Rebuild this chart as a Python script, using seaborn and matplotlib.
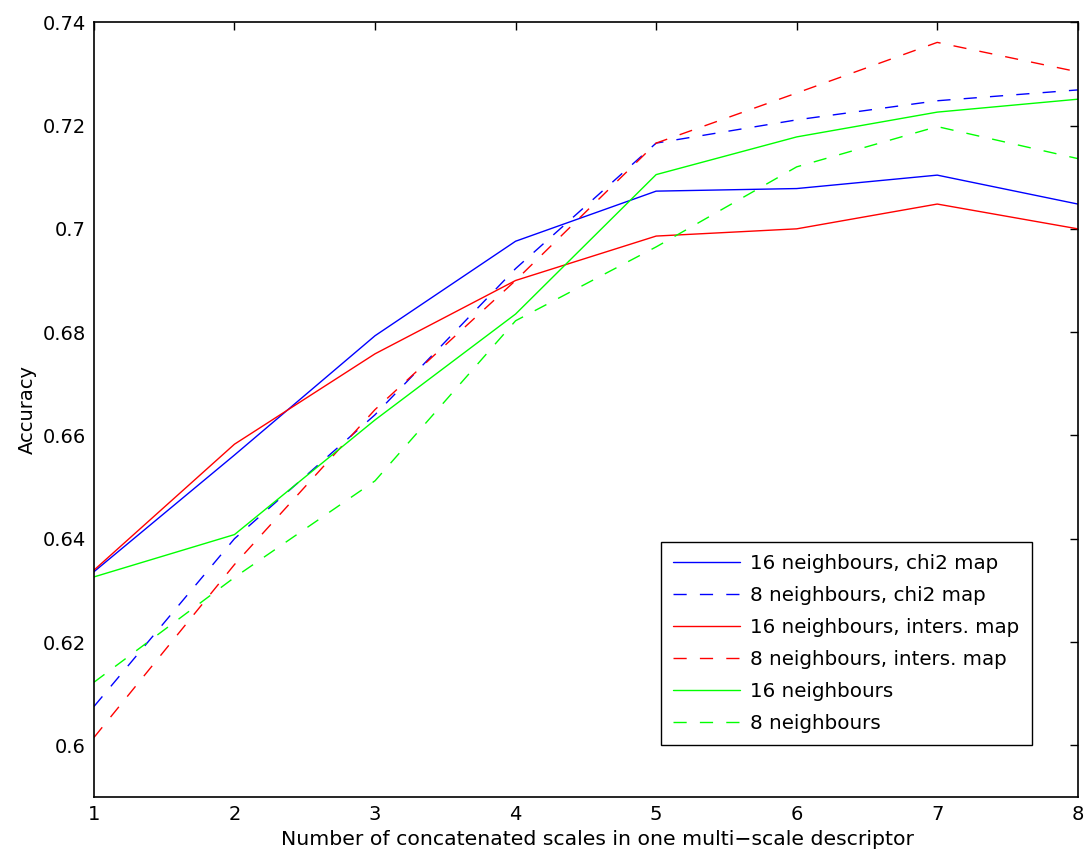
import matplotlib
matplotlib.use("Agg")
import matplotlib.pyplot as plt
import seaborn as sns
import pandas as pd

sns.set_theme(style="white")
plt.rcParams['font.family'] = ['DejaVu Sans']
plt.rcParams['text.color'] = 'black'
plt.rcParams['axes.labelcolor'] = 'black'
plt.rcParams['xtick.color'] = 'black'
plt.rcParams['ytick.color'] = 'black'

scales = [1, 2, 3, 4, 5, 6, 7, 8]
n16_chi2 = [0.6336, 0.6562, 0.6793, 0.6976, 0.7073, 0.7078, 0.7104, 0.7048]
n8_chi2 = [0.6075, 0.6400, 0.6640, 0.6923, 0.7166, 0.7211, 0.7248, 0.7269]
n16_inters = [0.6339, 0.6583, 0.6758, 0.6900, 0.6986, 0.7000, 0.7048, 0.7000]
n8_inters = [0.6015, 0.6350, 0.6650, 0.6900, 0.7166, 0.7263, 0.7361, 0.7304]
n16_plain = [0.6326, 0.6408, 0.6630, 0.6835, 0.7105, 0.7178, 0.7226, 0.7251]
n8_plain = [0.6122, 0.6325, 0.6512, 0.6822, 0.6965, 0.7120, 0.7198, 0.7136]

labels = ["16 neighbours, chi2 map", "8 neighbours, chi2 map",
          "16 neighbours, inters. map", "8 neighbours, inters. map",
          "16 neighbours", "8 neighbours"]
series = [n16_chi2, n8_chi2, n16_inters, n8_inters, n16_plain, n8_plain]
colors = ["#0000ff", "#0000ff", "#ff0000", "#ff0000", "#00ff00", "#00ff00"]
styles = ["-", "--", "-", "--", "-", "--"]

ytick_vals = [0.60, 0.62, 0.64, 0.66, 0.68, 0.70, 0.72, 0.74]
ytick_labels = ["0.6", "0.62", "0.64", "0.66", "0.68", "0.7", "0.72", "0.74"]

DASH = (9.5, 9.5)

fig = plt.figure(figsize=(10.92, 8.56), dpi=100)
ax = fig.add_axes([0.086, 0.069, 0.901, 0.905])

for lab, vals, c, ls in zip(labels, series, colors, styles):
    df = pd.DataFrame({"x": scales, "y": vals})
    sns.lineplot(data=df, x="x", y="y", ax=ax, color=c, linewidth=1.0,
                 label=lab, dashes=False)
    ax.lines[-1].set_linestyle(ls)
    if ls == "--":
        ax.lines[-1].set_dashes(DASH)

ax.set_xlim(1, 8)
ax.set_ylim(0.59, 0.74)
ax.set_xticks(scales)
ax.set_xticklabels([str(s) for s in scales])
ax.set_yticks(ytick_vals)
ax.set_yticklabels(ytick_labels)
ax.tick_params(direction="in", top=True, right=True, length=6, width=1,
               labelsize=14, colors="black", pad=6)
for sp in ax.spines.values():
    sp.set_color("black")
    sp.set_linewidth(1.2)
ax.set_xlabel("Number of concatenated scales in one multi\u2212scale descriptor", fontsize=14.7)
ax.xaxis.set_label_coords(0.512, -0.043)
ax.set_ylabel("Accuracy", fontsize=14)

leg = ax.legend(loc="lower right", bbox_to_anchor=(0.953, 0.067), fontsize=14.3,
                frameon=True, fancybox=False, edgecolor="black", framealpha=1,
                handlelength=3.4, handletextpad=0.5, borderpad=0.6,
                labelspacing=0.66, borderaxespad=0)
leg.get_frame().set_linewidth(1.0)
for h, ls in zip(leg.get_lines(), styles):
    h.set_linestyle(ls)
    if ls == "--":
        h.set_dashes(DASH)
for t in leg.get_texts():
    t.set_color("black")

fig.savefig("out.png", dpi=100)
